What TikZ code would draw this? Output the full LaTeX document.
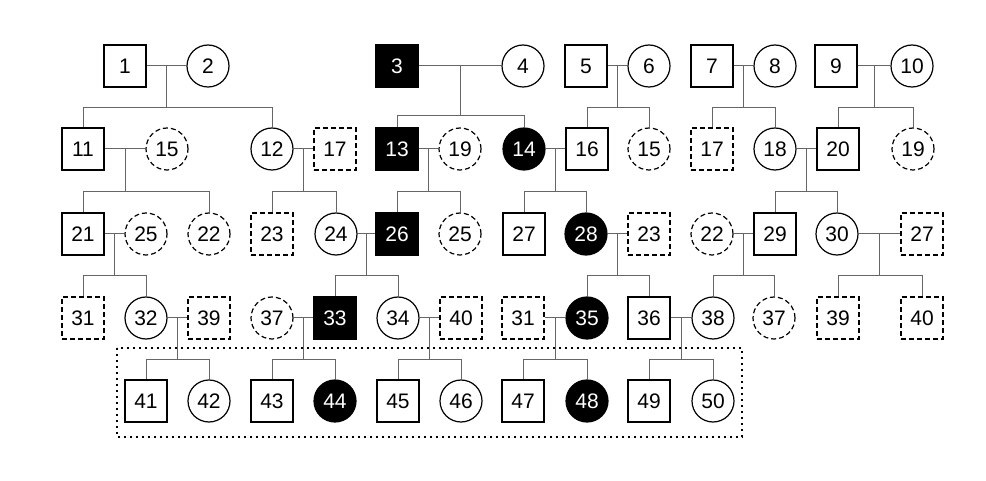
\documentclass[tikz,border=0pt]{standalone}
\usepackage{fontspec}
\setmainfont{Liberation Sans}
\tikzset{
  male/.style={draw, line width=1.2pt, minimum size=42pt, inner sep=0pt},
  female/.style={male, circle},
  aff/.style={fill=black, text=white},
  ext/.style={dash pattern=on 5pt off 3pt},
  kin/.style={draw=black!60, line width=1pt},
}
\begin{document}
\begin{tikzpicture}[x=1pt, y=-1pt, font=\fontsize{21}{21}\selectfont]
\useasboundingbox (0,0) rectangle (986,481);
% generation I
\node[male] (p1) at (125,66){1};
\node[female] (p2) at (208,66){2};
\node[male, aff] (p3) at (397,66){3};
\node[female] (p4) at (523,66){4};
\node[male] (p5) at (586,66){5};
\node[female] (p6) at (649,66){6};
\node[male] (p7) at (712,66){7};
\node[female] (p8) at (775,66){8};
\node[male] (p9) at (836,66){9};
\node[female] (p10) at (912,66){10};
% generation II
\node[male] (p11) at (83,149){11};
\node[female, ext] (p15) at (167,149){15};
\node[female] (p12) at (272,149){12};
\node[male, ext] (p17) at (335,149){17};
\node[male, aff] (p13) at (397,149){13};
\node[female, ext] (p19) at (460,149){19};
\node[female, aff] (p14) at (524,149){14};
\node[male] (p16) at (587,149){16};
\node[female, ext] (p15b) at (649,149){15};
\node[male, ext] (p17b) at (712,149){17};
\node[female] (p18) at (775,149){18};
\node[male] (p20) at (838,149){20};
\node[female, ext] (p19b) at (913,149){19};
% generation III
\node[male] (p21) at (83,234){21};
\node[female, ext] (p25) at (146,234){25};
\node[female, ext] (p22) at (209,234){22};
\node[male, ext] (p23) at (272,234){23};
\node[female] (p24) at (336,234){24};
\node[male, aff] (p26) at (397,234){26};
\node[female, ext] (p25b) at (460,234){25};
\node[male] (p27) at (524,234){27};
\node[female, aff] (p28) at (586,234){28};
\node[male, ext] (p23b) at (649,234){23};
\node[female, ext] (p22b) at (712,234){22};
\node[male] (p29) at (775,234){29};
\node[female] (p30) at (837,234){30};
\node[male, ext] (p27b) at (922,234){27};
% generation IV
\node[male, ext] (p31) at (83,318){31};
\node[female] (p32) at (146,318){32};
\node[male, ext] (p39) at (209,318){39};
\node[female, ext] (p37) at (272,318){37};
\node[male, aff] (p33) at (335,318){33};
\node[female] (p34) at (398,318){34};
\node[male, ext] (p40) at (461,318){40};
\node[male, ext] (p31b) at (523,318){31};
\node[female, aff] (p35) at (587,318){35};
\node[male] (p36) at (649,318){36};
\node[female] (p38) at (713,318){38};
\node[female, ext] (p37b) at (774,318){37};
\node[male, ext] (p39b) at (838,318){39};
\node[male, ext] (p40b) at (922,318){40};
% generation V
\node[male] (p41) at (146,401){41};
\node[female] (p42) at (209,401){42};
\node[male] (p43) at (272,401){43};
\node[female, aff] (p44) at (335,401){44};
\node[male] (p45) at (398,401){45};
\node[female] (p46) at (461,401){46};
\node[male] (p47) at (523,401){47};
\node[female, aff] (p48) at (587,401){48};
\node[male] (p49) at (649,401){49};
\node[female] (p50) at (713,401){50};
% families I
\coordinate (f1) at (166.5,66); \coordinate (s1) at (166.5,108);
\draw[kin](p1) -- (p2); \draw[kin](f1) -- (s1);
\draw[kin](s1) -| (p11); \draw[kin](s1) -| (p12);
\coordinate (f3) at (460,66); \coordinate (s3) at (460,116);
\draw[kin](p3) -- (p4); \draw[kin](f3) -- (s3);
\draw[kin](s3) -| (p13); \draw[kin](s3) -| (p14);
\coordinate (f5) at (617.5,66); \coordinate (s5) at (617.5,108);
\draw[kin](p5) -- (p6); \draw[kin](f5) -- (s5);
\draw[kin](s5) -| (p16); \draw[kin](s5) -| (p15b);
\coordinate (f7) at (743.5,66); \coordinate (s7) at (743.5,108);
\draw[kin](p7) -- (p8); \draw[kin](f7) -- (s7);
\draw[kin](s7) -| (p17b); \draw[kin](s7) -| (p18);
\coordinate (f9) at (874,66); \coordinate (s9) at (874,108);
\draw[kin](p9) -- (p10); \draw[kin](f9) -- (s9);
\draw[kin](s9) -| (p20); \draw[kin](s9) -| (p19b);
% families II
\coordinate (f11) at (125,149); \coordinate (s11) at (125,192);
\draw[kin](p11) -- (p15); \draw[kin](f11) -- (s11);
\draw[kin](s11) -| (p21); \draw[kin](s11) -| (p22);
\coordinate (f12) at (303.5,149); \coordinate (s12) at (303.5,192);
\draw[kin](p12) -- (p17); \draw[kin](f12) -- (s12);
\draw[kin](s12) -| (p23); \draw[kin](s12) -| (p24);
\coordinate (f13) at (428.5,149); \coordinate (s13) at (428.5,192);
\draw[kin](p13) -- (p19); \draw[kin](f13) -- (s13);
\draw[kin](s13) -| (p26); \draw[kin](s13) -| (p25b);
\coordinate (f14) at (555.5,149); \coordinate (s14) at (555.5,192);
\draw[kin](p14) -- (p16); \draw[kin](f14) -- (s14);
\draw[kin](s14) -| (p27); \draw[kin](s14) -| (p28);
\coordinate (f18) at (806.5,149); \coordinate (s18) at (806.5,192);
\draw[kin](p18) -- (p20); \draw[kin](f18) -- (s18);
\draw[kin](s18) -| (p29); \draw[kin](s18) -| (p30);
% families III
\coordinate (f21) at (114.5,234); \coordinate (s21) at (114.5,276);
\draw[kin](p21) -- (p25); \draw[kin](f21) -- (s21);
\draw[kin](s21) -| (p31); \draw[kin](s21) -| (p32);
\coordinate (f24) at (366.5,234); \coordinate (s24) at (366.5,276);
\draw[kin](p24) -- (p26); \draw[kin](f24) -- (s24);
\draw[kin](s24) -| (p33); \draw[kin](s24) -| (p34);
\coordinate (f28) at (617.5,234); \coordinate (s28) at (617.5,276);
\draw[kin](p28) -- (p23b); \draw[kin](f28) -- (s28);
\draw[kin](s28) -| (p35); \draw[kin](s28) -| (p36);
\coordinate (f29) at (743.5,234); \coordinate (s29) at (743.5,276);
\draw[kin](p22b) -- (p29); \draw[kin](f29) -- (s29);
\draw[kin](s29) -| (p38); \draw[kin](s29) -| (p37b);
\coordinate (f30) at (879.5,234); \coordinate (s30) at (879.5,276);
\draw[kin](p30) -- (p27b); \draw[kin](f30) -- (s30);
\draw[kin](s30) -| (p39b); \draw[kin](s30) -| (p40b);
% families IV
\coordinate (f32) at (177.5,318); \coordinate (s32) at (177.5,359);
\draw[kin](p32) -- (p39); \draw[kin](f32) -- (s32);
\draw[kin](s32) -| (p41); \draw[kin](s32) -| (p42);
\coordinate (f33) at (303.5,318); \coordinate (s33) at (303.5,359);
\draw[kin](p37) -- (p33); \draw[kin](f33) -- (s33);
\draw[kin](s33) -| (p43); \draw[kin](s33) -| (p44);
\coordinate (f34) at (429.5,318); \coordinate (s34) at (429.5,359);
\draw[kin](p34) -- (p40); \draw[kin](f34) -- (s34);
\draw[kin](s34) -| (p45); \draw[kin](s34) -| (p46);
\coordinate (f35) at (555,318); \coordinate (s35) at (555,359);
\draw[kin](p31b) -- (p35); \draw[kin](f35) -- (s35);
\draw[kin](s35) -| (p47); \draw[kin](s35) -| (p48);
\coordinate (f36) at (681,318); \coordinate (s36) at (681,359);
\draw[kin](p36) -- (p38); \draw[kin](f36) -- (s36);
\draw[kin](s36) -| (p49); \draw[kin](s36) -| (p50);
% generation V box
\draw[line width=1.8pt, dash pattern=on 1.8pt off 4.2pt] (117,348) rectangle (742,437);
\end{tikzpicture}
\end{document}
